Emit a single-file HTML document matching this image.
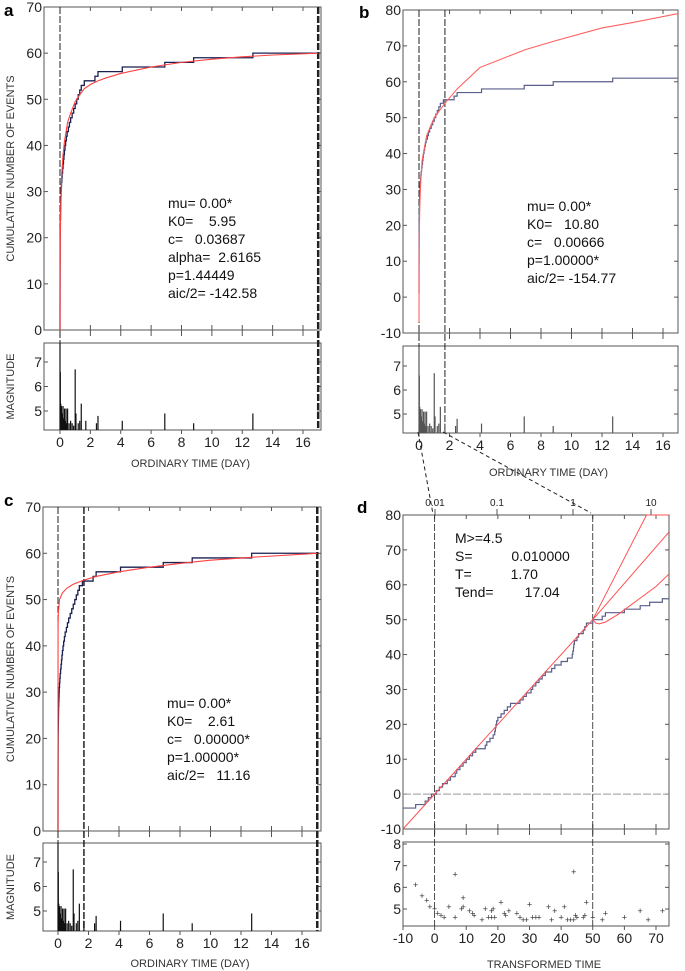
<!DOCTYPE html>
<html><head><meta charset="utf-8"><style>
html,body{margin:0;padding:0;background:#fff}
svg{display:block;font-family:"Liberation Sans",Arial,sans-serif}
.pre{white-space:pre}
</style></head><body>
<svg id="fig" width="685" height="971" viewBox="0 0 685 971"></svg>
<script>
// ---- data ----
const eventTimes=[0,0,0,0,0,0.001,0.001,0.002,0.002,0.003,0.003,0.004,0.005,0.005,0.006,0.007,0.008,0.009,0.01,0.01,
0.012,0.015,0.02,0.025,0.03,0.035,0.04,0.05,0.06,0.07,0.08,0.1,0.12,0.14,0.17,0.2,0.23,0.26,0.29,0.33,
0.37,0.42,0.47,0.55,0.62,0.7,0.8,0.9,1.0,1.1,1.2,1.3,1.4,1.6,2.3,2.5,4.1,6.9,8.8,12.7];
const magTimes=[0,0.02,0.05,0.1,0.15,0.2,0.25,0.3,0.35,0.4,0.45,0.5,0.6,0.7,0.8,0.9,1.0,1.05,1.2,1.3,1.4,1.7,2.4,2.5,4.1,6.9,8.8,12.7];
const magValues=[7.8,6.6,5.3,5.2,4.9,5.2,4.7,5.1,4.6,5.1,4.5,5.1,4.5,4.6,4.5,4.4,6.7,4.9,4.5,4.6,5.3,4.6,4.5,4.8,4.6,4.9,4.5,4.9];
const fitA_t=[0,0.005,0.02,0.05,0.1,0.2,0.3,0.5,0.7,1.0,1.3,1.6,2.0,2.5,3,4,5,6,8,10,12,14,17];
const fitA_y=[0,12,20,27,33,38,41,45,47,49.5,51,52.3,53.2,54,54.6,55.6,56.3,57,58,58.7,59.2,59.6,60];
const fitB_t=[0,0.005,0.02,0.05,0.1,0.2,0.5,1.0,1.7,2.5,4,7,9,12,14,17];
const fitB_y=[-7,8,17,25,31,38,45,50,54,58,64,69,71.5,75,76.5,79];
const fitC_t=[0,0.002,0.005,0.02,0.1,0.3,0.6,1.0,1.7,2.5,4,6,8,10,13,17];
const fitC_y=[0,35,44,47,50,51.5,52.5,53.3,54.2,55,56,57,57.8,58.5,59.2,60];
const tauEvents=[-6,-3,-2,-1,0.5,1.5,2.5,4,5,6.5,7,8,9,10,11,12,13,16,16.5,17.5,18.5,19,19.2,19.4,19.6,20,21,22,23,24,27,28,29,30.5,31,32,33,34,35,37,38,40,42,43.5,43.7,43.9,44,44.2,45,45.5,47,47.5,48,50,53,54,60,65,68,72];
const tauMagX=[-6,-4,-2.5,-1.5,0,1,2,3,4.5,6.5,6.5,8.5,9,9,11,12,12.5,15,16,17,18,18,18.5,19,21,22,22.5,23.5,26,27,28,29,30,31,32,33,36,37,38,40,41,42,43,44,44,44.5,45,47,47.5,48,50,53,54,60,65,67.5,72];
const tauMagY=[6.1,5.6,5.4,5.1,5.0,4.8,4.7,4.6,5.1,6.6,4.6,5.0,5.5,5.1,4.9,4.8,4.7,4.5,5.0,4.6,4.9,4.6,5.0,4.6,5.3,4.8,4.7,4.9,4.8,4.6,4.5,4.5,5.2,4.6,4.6,4.6,5.1,4.5,4.9,4.6,5.1,4.5,4.5,4.5,6.7,4.7,4.6,4.6,4.7,5.3,4.6,4.5,4.8,4.6,4.9,4.5,4.9];
const dModelA_x=[50,67,74]; const dModelA_y=[50,80,80];
const dModelB_x=[50,74]; const dModelB_y=[50,75];
const dModelC_x=[50,51,52,54,58,64,70,74]; const dModelC_y=[50,49,48.8,49.3,51.5,55.5,59.5,63];
const dayTicks=[0,2,4,6,8,10,12,14,16];
const tauTicks=[-10,0,10,20,30,40,50,60,70];

const NS='http://www.w3.org/2000/svg';
const svg=document.getElementById('fig');
function el(tag,attrs,parent,name,text){const e=document.createElementNS(NS,tag);for(const k in attrs)e.setAttribute(k,attrs[k]);


if(text!==undefined)e.textContent=text;(parent||svg).appendChild(e);return e;}
function lin(d0,d1,p0,p1){return v=>p0+(v-d0)*(p1-p0)/(d1-d0);}
function stepPath(times,start,xs,ys,x0,xmax){let c=start;let d='M'+xs(x0)+','+ys(c);
for(const t of times){d+='L'+xs(t)+','+ys(c);c++;d+='L'+xs(t)+','+ys(c);}d+='L'+xs(xmax)+','+ys(c);return d;}
function linePath(xa,ya,xs,ys){return xa.map((v,i)=>(i?'L':'M')+xs(v)+','+ys(ya[i])).join('');}

function panel(o){
 const g=el('g',{},svg,'panel-'+o.id);
 const xs=lin(o.xd[0],o.xd[1],o.xp[0],o.xp[1]);
 const ys=lin(o.yd[0],o.yd[1],o.yp[0],o.yp[1]);
 const ms=lin(o.md[0],o.md[1],o.mp[0],o.mp[1]);
 el('text',{x:o.lab[0],y:o.lab[1],'font-size':17,'font-weight':'bold'},g,'panel-label',o.id);
 el('rect',{x:o.box[0],y:o.box[1],width:o.box[2]-o.box[0],height:o.box[3]-o.box[1],fill:'none',stroke:'#555','stroke-width':1},g,'main-plot-frame');
 el('rect',{x:o.box[0],y:o.mbox[0],width:o.box[2]-o.box[0],height:o.mbox[1]-o.mbox[0],fill:'none',stroke:'#555','stroke-width':1},g,'magnitude-plot-frame');
 o.yticks.forEach(v=>{const y=ys(v);
  el('line',{x1:o.box[0],x2:o.box[0]+4,y1:y,y2:y,stroke:'#555'},g,'y-tick');
  el('line',{x1:o.box[2]-4,x2:o.box[2],y1:y,y2:y,stroke:'#555'},g,'y-tick');
  el('text',{x:o.box[0]-2,y:y+5,'font-size':14,'text-anchor':'end',fill:'#222'},g,'y-tick-label',v);});
 o.mticks.forEach(v=>{const y=ms(v);
  el('line',{x1:o.box[0],x2:o.box[0]+4,y1:y,y2:y,stroke:'#555'},g,'mag-tick');
  el('line',{x1:o.box[2]-4,x2:o.box[2],y1:y,y2:y,stroke:'#555'},g,'mag-tick');
  el('text',{x:o.box[0]-2,y:y+5,'font-size':14,'text-anchor':'end',fill:'#222'},g,'mag-tick-label',v);});
 o.xticks.forEach(v=>{const x=xs(v);
  el('line',{x1:x,x2:x,y1:o.box[1],y2:o.box[1]+4,stroke:'#555'},g,'x-tick');
  el('line',{x1:x,x2:x,y1:o.box[3],y2:o.box[3]-5,stroke:'#555'},g,'x-tick');
  el('line',{x1:x,x2:x,y1:o.box[3],y2:o.box[3]+6,stroke:'#555'},g,'x-tick');
  el('line',{x1:x,x2:x,y1:o.mbox[1],y2:o.mbox[1]+4,stroke:'#555'},g,'x-tick');
  el('text',{x:x,y:o.mbox[1]+17,'font-size':14,'text-anchor':'middle',fill:'#222'},g,'x-tick-label',v);});
 el('text',{x:(o.box[0]+o.box[2])/2+8,y:o.xtitleY,'font-size':11,'text-anchor':'middle',fill:'#333'},g,'x-axis-title',o.xtitle);
 if(o.ytitle){el('text',{transform:`translate(${o.ytx},${(o.box[1]+o.box[3])/2}) rotate(-90)`,'font-size':11,'text-anchor':'middle',fill:'#333'},g,'y-axis-title',o.ytitle);
  el('text',{transform:`translate(${o.ytx},${(o.mbox[0]+o.mbox[1])/2}) rotate(-90)`,'font-size':11,'text-anchor':'middle',fill:'#333'},g,'mag-axis-title','MAGNITUDE');}
 (o.vlines||[]).forEach(v=>{const x=xs(v[0]);
  el('line',{x1:x,x2:x,y1:o.box[1],y2:o.mbox[1],stroke:'#222','stroke-width':v[1],'stroke-dasharray':'7,2'},g,'interval-line');});
 return {g,xs,ys,ms};
}
function textBlock(g,x,y,lines){lines.forEach((l,i)=>el('text',{x:x,y:y+i*18,'font-size':14,fill:'#111','class':'pre'},g,'parameter-text',l));}
function magBars(p,o,color){magTimes.forEach((t,i)=>{el('line',{x1:p.xs(t),x2:p.xs(t),y1:o.mbox[1],y2:Math.max(o.mbox[0],p.ms(magValues[i])),stroke:color,'stroke-width':1.2},p.g,'magnitude-bar');});}

// Panel a
const oa={id:'a',lab:[4,16],xd:[0,16],xp:[60,303],yd:[0,70],yp:[330,7],md:[7,5],mp:[362,411],box:[44,7,321,330],mbox:[343,430],
 yticks:[0,10,20,30,40,50,60,70],mticks:[5,6,7],xticks:dayTicks,xtitleY:467,xtitle:'ORDINARY TIME (DAY)',ytitle:'CUMULATIVE NUMBER OF EVENTS',ytx:14,vlines:[[0,1],[17,2.5]]};
const pa=panel(oa);
el('path',{d:stepPath(eventTimes,0,pa.xs,pa.ys,0,17),fill:'none',stroke:'#1a2050','stroke-width':1.3},pa.g,'observed-cumulative-line');
el('path',{d:linePath(fitA_t,fitA_y,pa.xs,pa.ys),fill:'none',stroke:'#ff4040','stroke-width':1.1},pa.g,'fitted-model-line');
magBars(pa,oa,'#111');
textBlock(pa.g,168,208,['mu= 0.00*','K0=    5.95','c=   0.03687','alpha=  2.6165','p=1.44449','aic/2= -142.58']);

// Panel b
const ob={id:'b',lab:[359,18],xd:[0,16],xp:[419,663],yd:[-10,80],yp:[333,10],md:[7,5],mp:[366,414],box:[403,10,678,333],mbox:[346,433],
 yticks:[-10,0,10,20,30,40,50,60,70,80],mticks:[5,6,7],xticks:dayTicks,xtitleY:476,xtitle:'ORDINARY TIME (DAY)',vlines:[[0,1],[1.7,1]]};
const pb=panel(ob);
el('path',{d:stepPath(eventTimes,1,pb.xs,pb.ys,0,17),fill:'none',stroke:'#5a5e8a','stroke-width':1.2},pb.g,'observed-cumulative-line');
el('path',{d:linePath(fitB_t,fitB_y,pb.xs,pb.ys),fill:'none',stroke:'#ff6060','stroke-width':1.1},pb.g,'fitted-model-line');
magBars(pb,ob,'#555');
textBlock(pb.g,527,211,['mu= 0.00*','K0=   10.80','c=   0.00666','p=1.00000*','aic/2= -154.77']);

// Panel c
const oc={id:'c',lab:[4,506],xd:[0,16],xp:[58,302],yd:[0,70],yp:[831,507],md:[7,5],mp:[862,911],box:[43,507,321,831],mbox:[843,931],
 yticks:[0,10,20,30,40,50,60,70],mticks:[5,6,7],xticks:dayTicks,xtitleY:967,xtitle:'ORDINARY TIME (DAY)',ytitle:'CUMULATIVE NUMBER OF EVENTS',ytx:14,vlines:[[0,1],[1.7,1.5],[17,2.5]]};
const pc=panel(oc);
el('path',{d:stepPath(eventTimes,0,pc.xs,pc.ys,0,17),fill:'none',stroke:'#1a2050','stroke-width':1.3},pc.g,'observed-cumulative-line');
el('path',{d:linePath(fitC_t,fitC_y,pc.xs,pc.ys),fill:'none',stroke:'#ff4040','stroke-width':1.1},pc.g,'fitted-model-line');
magBars(pc,oc,'#111');
textBlock(pc.g,167,708,['mu= 0.00*','K0=    2.61','c=   0.00000*','p=1.00000*','aic/2=   11.16']);

// Panel d
const od={id:'d',lab:[357,513],xd:[-10,70],xp:[403,656],yd:[-10,80],yp:[829,515],md:[8,5],mp:[844,909],box:[403,515,669,829],mbox:[842,926],
 yticks:[-10,0,10,20,30,40,50,60,70,80],mticks:[5,6,7,8],xticks:tauTicks,xtitleY:968,xtitle:'TRANSFORMED TIME',vlines:[[0,0.8],[50,0.8]]};
const pd=panel(od);
el('line',{x1:403,x2:669,y1:pd.ys(0),y2:pd.ys(0),stroke:'#999','stroke-width':1,'stroke-dasharray':'8,2'},pd.g,'zero-line');
el('path',{d:stepPath(tauEvents,-4,pd.xs,pd.ys,-10,74),fill:'none',stroke:'#5a5e8a','stroke-width':1.2},pd.g,'observed-cumulative-line');
el('path',{d:'M'+pd.xs(-10)+','+pd.ys(-10)+'L'+pd.xs(50)+','+pd.ys(50),fill:'none',stroke:'#ff5050','stroke-width':1},pd.g,'expected-line');
[[dModelA_x,dModelA_y],[dModelB_x,dModelB_y],[dModelC_x,dModelC_y]].forEach(m=>el('path',{d:linePath(m[0],m[1],pd.xs,pd.ys),fill:'none',stroke:'#ff5050','stroke-width':1},pd.g,'forecast-line'));
tauMagX.forEach((t,i)=>el('text',{x:pd.xs(t),y:pd.ms(tauMagY[i])+3,'font-size':9,'text-anchor':'middle',fill:'#333'},pd.g,'magnitude-point','+'));
[['0.01',435],['0.1',497],['1',573],['10',651]].forEach(l=>{el('text',{x:l[1],y:506,'font-size':10,'text-anchor':'middle',fill:'#222'},pd.g,'log-time-label',l[0]);
 el('line',{x1:l[1],x2:l[1],y1:509,y2:515,stroke:'#555'},pd.g,'log-tick');});
textBlock(pd.g,455,543,['M>=4.5','S=          0.010000','T=          1.70','Tend=        17.04']);
el('line',{x1:418,y1:432,x2:433,y2:514,stroke:'#222','stroke-dasharray':'4,3'},svg,'zoom-connector');
el('line',{x1:443,y1:432,x2:591,y2:513,stroke:'#222','stroke-dasharray':'4,3'},svg,'zoom-connector');
</script>
</body></html>
